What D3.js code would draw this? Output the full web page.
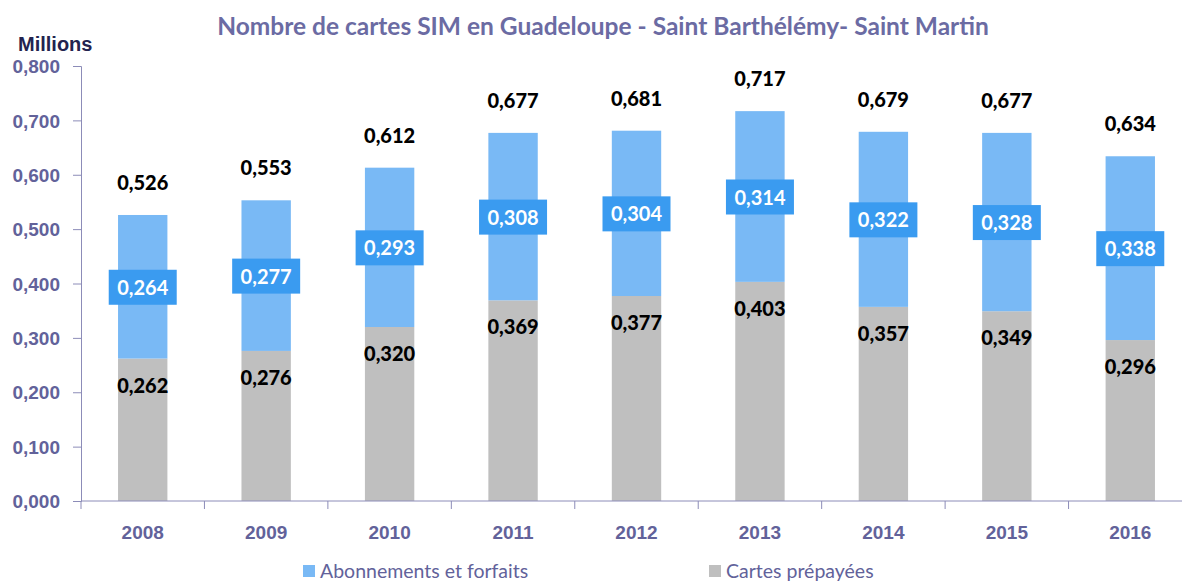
<!DOCTYPE html>
<html>
<head>
<meta charset="utf-8">
<script src="https://cdn.jsdelivr.net/npm/d3@7"></script>
<style>
  body { margin: 0; background: #fff; }
  svg text { font-family: Lato, "Open Sans", sans-serif; }
</style>
</head>
<body>
<div id="chart"></div>
<script>
const years = ["2008", "2009", "2010", "2011", "2012", "2013", "2014", "2015", "2016"];
const prepaid = [0.262, 0.276, 0.320, 0.369, 0.377, 0.403, 0.357, 0.349, 0.296];
const subscriptions = [0.264, 0.277, 0.293, 0.308, 0.304, 0.314, 0.322, 0.328, 0.338];
const totals = [0.526, 0.553, 0.612, 0.677, 0.681, 0.717, 0.679, 0.677, 0.634];
const yTicks = [0, 0.1, 0.2, 0.3, 0.4, 0.5, 0.6, 0.7, 0.8];

const width = 1182, height = 581;
const fmt = v => d3.format(".3f")(v).replace(".", ",");

const svg = d3.select("#chart").append("svg")
  .attr("width", width)
  .attr("height", height);

const x = d3.scaleBand()
  .domain(years)
  .range([81, 1192])
  .paddingInner(0.6)
  .paddingOuter(0.3);

const y = d3.scaleLinear().domain([0, 0.8]).range([501, 66]);

const axisColor = "#8c8cb8";
const labelColor = "#62629a";

// title
svg.append("text")
  .attr("x", 603).attr("y", 35)
  .attr("text-anchor", "middle")
  .attr("font-size", 24.5).attr("font-weight", "bold")
  .attr("fill", "#6b6ba3")
  .text("Nombre de cartes SIM en Guadeloupe - Saint Barthélémy- Saint Martin");

svg.append("text")
  .attr("x", 18).attr("y", 51)
  .attr("font-size", 20).attr("font-weight", "bold")
  .attr("fill", "#23234f")
  .style("font-family", "Liberation Sans, Arial, sans-serif")
  .text("Millions");

// bars
const step = x.step();
const bw = x.bandwidth();

svg.append("g").selectAll("rect")
  .data(years)
  .join("rect")
  .attr("x", d => x(d))
  .attr("width", bw)
  .attr("y", (d, i) => y(prepaid[i]))
  .attr("height", (d, i) => y(0) - y(prepaid[i]))
  .attr("fill", "#bfbfbf");

svg.append("g").selectAll("rect")
  .data(years)
  .join("rect")
  .attr("x", d => x(d))
  .attr("width", bw)
  .attr("y", (d, i) => y(prepaid[i] + subscriptions[i]))
  .attr("height", (d, i) => y(prepaid[i]) - y(prepaid[i] + subscriptions[i]))
  .attr("fill", "#79b9f5");

// y axis
const yAxis = d3.axisLeft(y)
  .tickValues(yTicks)
  .tickFormat(fmt)
  .tickSizeOuter(0)
  .tickSize(8)
  .tickPadding(13);

const gy = svg.append("g").attr("transform", "translate(81,0)").call(yAxis);
gy.select(".domain").attr("stroke", axisColor);
gy.selectAll(".tick line").attr("stroke", axisColor);
gy.selectAll(".tick text")
  .attr("fill", labelColor)
  .attr("font-size", 19).attr("font-weight", "bold")
  .attr("dy", "0.35em")
  .style("font-family", "Liberation Sans, Arial, sans-serif");

// x axis
const gx = svg.append("g").attr("transform", `translate(0,${y(0)})`);
gx.append("line")
  .attr("x1", 81).attr("x2", 1192)
  .attr("stroke", axisColor);
gx.selectAll("line.tk")
  .data(d3.range(years.length + 1))
  .join("line")
  .attr("class", "tk")
  .attr("x1", i => 81 + i * step)
  .attr("x2", i => 81 + i * step)
  .attr("y1", 0).attr("y2", 8)
  .attr("stroke", axisColor);
gx.selectAll("text")
  .data(years)
  .join("text")
  .attr("x", d => x(d) + bw / 2)
  .attr("y", 38)
  .attr("text-anchor", "middle")
  .attr("font-size", 19).attr("font-weight", "bold")
  .attr("fill", labelColor)
  .style("font-family", "Liberation Sans, Arial, sans-serif")
  .text(d => d);

// labels: totals
svg.append("g").selectAll("text")
  .data(years)
  .join("text")
  .attr("x", d => x(d) + bw / 2)
  .attr("y", (d, i) => y(totals[i]) - 25)
  .attr("text-anchor", "middle")
  .attr("font-size", 20).attr("font-weight", "900")
  .attr("fill", "#000")
  .text((d, i) => fmt(totals[i]));

// labels: prepaid
svg.append("g").selectAll("text")
  .data(years)
  .join("text")
  .attr("x", d => x(d) + bw / 2)
  .attr("y", (d, i) => y(prepaid[i]) + 34)
  .attr("text-anchor", "middle")
  .attr("font-size", 20).attr("font-weight", "900")
  .attr("fill", "#000")
  .text((d, i) => fmt(prepaid[i]));

// labels: subscriptions in boxes
const boxes = svg.append("g").selectAll("g")
  .data(years)
  .join("g")
  .attr("transform", (d, i) => `translate(${x(d) + bw / 2},${y(prepaid[i] + subscriptions[i] / 2)})`);
boxes.append("rect")
  .attr("x", -34).attr("y", -17)
  .attr("width", 68).attr("height", 35)
  .attr("fill", "#3a9bf0");
boxes.append("text")
  .attr("y", 8)
  .attr("text-anchor", "middle")
  .attr("font-size", 20).attr("font-weight", "bold")
  .attr("fill", "#fff")
  .text((d, i) => fmt(subscriptions[i]));

// legend
const legend = [
  { name: "Abonnements et forfaits", color: "#79b9f5", x: 303 },
  { name: "Cartes prépayées", color: "#bfbfbf", x: 709 }
];
const lg = svg.append("g").selectAll("g")
  .data(legend)
  .join("g")
  .attr("transform", d => `translate(${d.x},565)`);
lg.append("rect")
  .attr("width", 12).attr("height", 12)
  .attr("fill", d => d.color);
lg.append("text")
  .attr("x", 17).attr("y", 13)
  .attr("font-size", 19.5)
  .attr("fill", labelColor)
  .text(d => d.name);
</script>
</body>
</html>
